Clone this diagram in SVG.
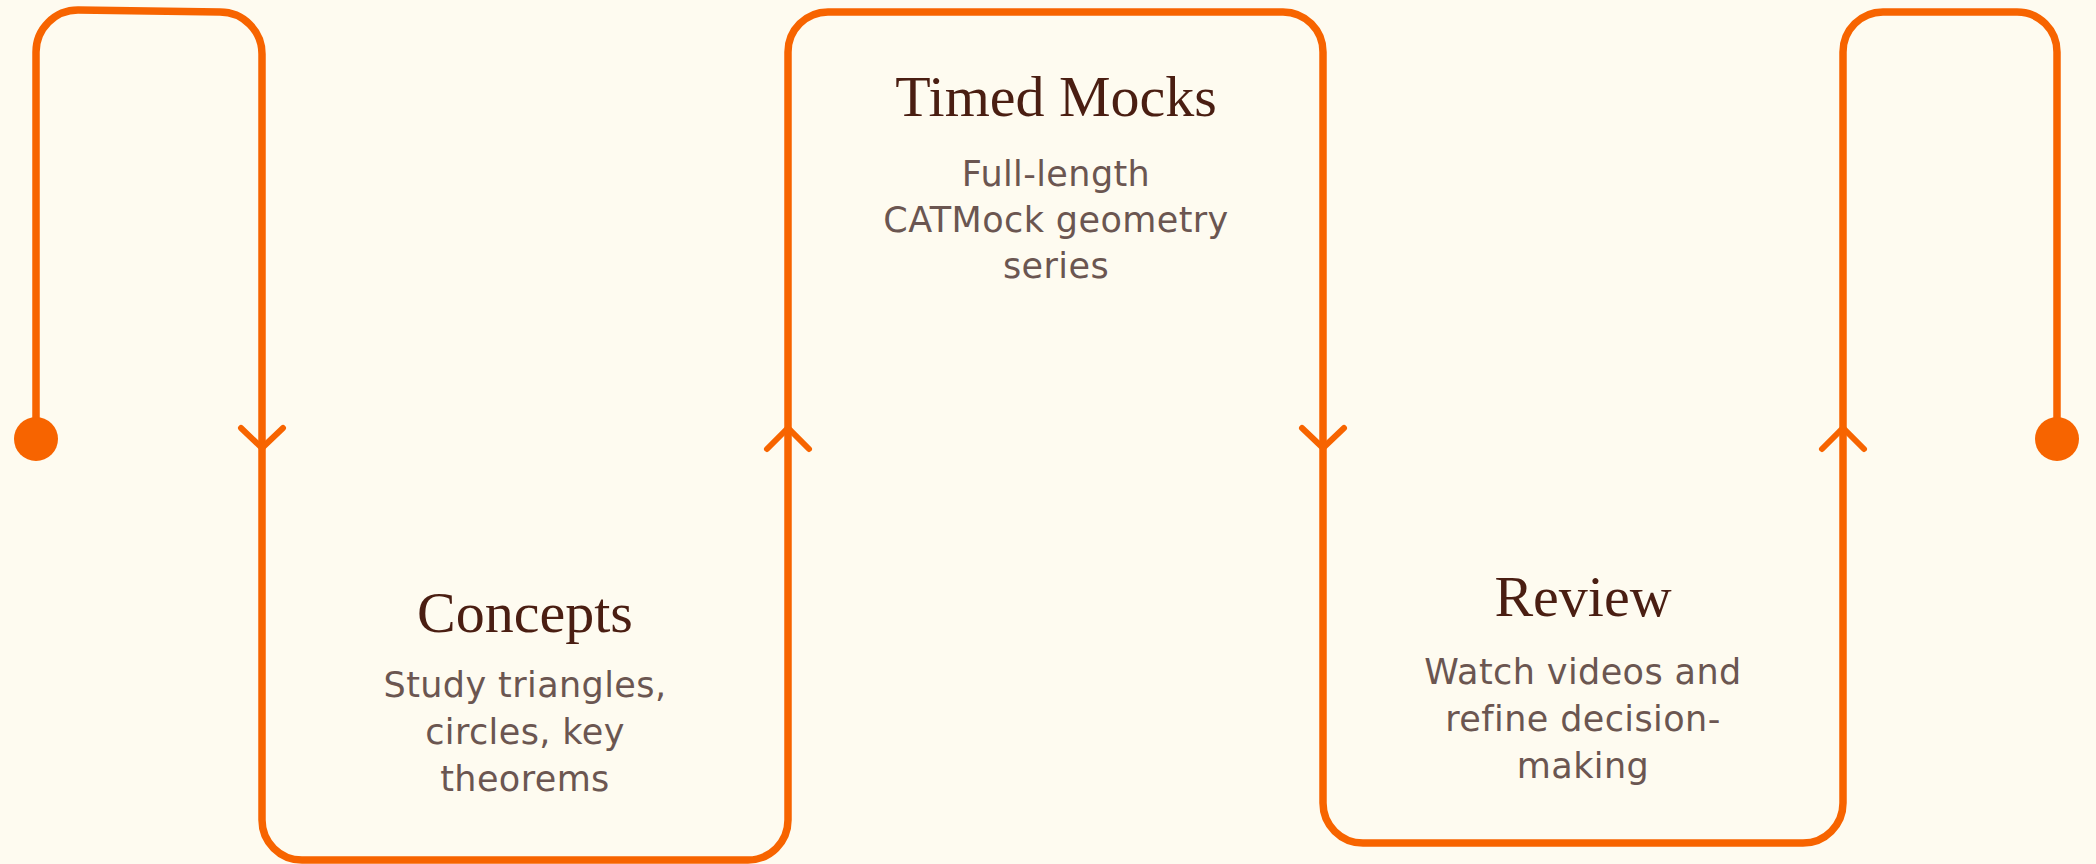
<svg xmlns="http://www.w3.org/2000/svg" width="2096" height="864" viewBox="0 0 2096 864">
<style>
.bg{fill:#FEFBF0}
.line{fill:none;stroke:#F76400;stroke-width:7.5;stroke-linejoin:round;stroke-linecap:round}
.arr{fill:none;stroke:#F76400;stroke-width:6;stroke-linejoin:miter;stroke-linecap:round}
.dot{fill:#F76400}
.title{font-family:"Liberation Serif","Times New Roman",serif;font-size:58px;fill:#4A1E12;text-anchor:middle}
.desc{font-family:"DejaVu Sans","Noto Sans",sans-serif;font-size:35px;letter-spacing:0.4px;fill:#6B5651;text-anchor:middle}
</style>
<rect class="bg" x="0" y="0" width="2096" height="864"/>
<g id="connectors">
<path class="line" d="M36,439 V52 A42,42 0 0 1 78,10 L220,12 A42,42 0 0 1 262,54 V820 A40,40 0 0 0 302,860 H748 A40,40 0 0 0 788,820 V52 A40,40 0 0 1 828,12 H1283 A40,40 0 0 1 1323,52 V803 A40,40 0 0 0 1363,843 H1803 A40,40 0 0 0 1843,803 V52 A40,40 0 0 1 1883,12 H2017 A40,40 0 0 1 2057,52 V439"/>
<polyline class="arr" points="241,428 262,448 283,428"/>
<polyline class="arr" points="767,449 788,428 809,449"/>
<polyline class="arr" points="1302,428 1323,448 1344,428"/>
<polyline class="arr" points="1822,449 1843,428 1864,449"/>
</g>
<g id="start">
<circle class="dot" cx="36" cy="439" r="22"/>
</g>
<g id="concepts">
<text class="title" x="525" y="632">Concepts</text>
<text class="desc" x="525" y="697">Study triangles,</text>
<text class="desc" x="525" y="744">circles, key</text>
<text class="desc" x="525" y="791">theorems</text>
</g>
<g id="timed-mocks">
<text class="title" x="1056" y="116">Timed Mocks</text>
<text class="desc" x="1056" y="186">Full-length</text>
<text class="desc" x="1056" y="232">CATMock geometry</text>
<text class="desc" x="1056" y="278">series</text>
</g>
<g id="review">
<text class="title" x="1583" y="616">Review</text>
<text class="desc" x="1583" y="684">Watch videos and</text>
<text class="desc" x="1583" y="731">refine decision-</text>
<text class="desc" x="1583" y="778">making</text>
</g>
<g id="end">
<circle class="dot" cx="2057" cy="439" r="22"/>
</g>
</svg>
